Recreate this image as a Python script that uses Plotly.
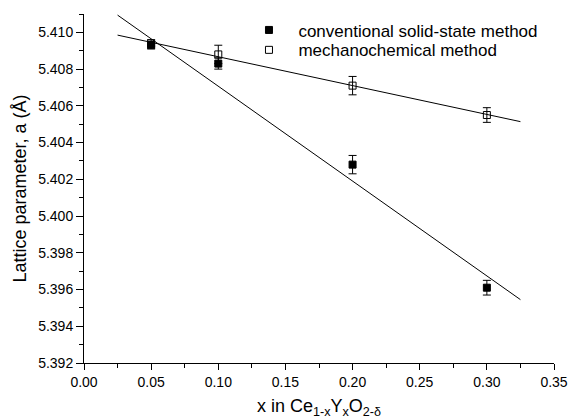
import plotly.graph_objects as go

# Data
x_vals = [0.05, 0.10, 0.20, 0.30]
conv_y = [5.4093, 5.4083, 5.4028, 5.3961]
conv_err = [0.0002, 0.0003, 0.0005, 0.0004]
mech_y = [5.4094, 5.4088, 5.4071, 5.4055]
mech_err = [0.0002, 0.0005, 0.0005, 0.0004]

# Fitted straight lines (end points)
fit_x = [0.025, 0.325]
conv_fit_y = [5.41094, 5.39545]
mech_fit_y = [5.40985, 5.40514]

names = ["conventional solid-state method", "mechanochemical method"]
x_ticks = [0, 0.05, 0.1, 0.15, 0.2, 0.25, 0.3, 0.35]
x_ticktext = ["0.00", "0.05", "0.10", "0.15", "0.20", "0.25", "0.30", "0.35"]

font = "Liberation Sans, Arial, sans-serif"
NB = "\u00a0\u00a0"  # small gap between legend symbol and text

fig = go.Figure()
fig.add_trace(go.Scatter(x=fit_x, y=conv_fit_y, mode="lines",
                         line=dict(color="black", width=1), showlegend=False, hoverinfo="skip"))
fig.add_trace(go.Scatter(x=fit_x, y=mech_fit_y, mode="lines",
                         line=dict(color="black", width=1), showlegend=False, hoverinfo="skip"))
fig.add_trace(go.Scatter(x=x_vals, y=conv_y, mode="markers", name=NB + names[0],
                         legend="legend",
                         marker=dict(symbol="square", size=7, color="black",
                                     line=dict(color="black", width=1)),
                         error_y=dict(type="data", array=conv_err, color="black",
                                      thickness=1, width=4)))
fig.add_trace(go.Scatter(x=x_vals, y=mech_y, mode="markers", name=NB + names[1],
                         legend="legend2",
                         marker=dict(symbol="square-open", size=7, color="black",
                                     line=dict(color="black", width=1)),
                         error_y=dict(type="data", array=mech_err, color="black",
                                      thickness=1, width=4)))

leg_common = dict(xanchor="left", yanchor="middle", bgcolor="rgba(0,0,0,0)",
                  font=dict(size=17), itemwidth=30)

fig.update_layout(
    width=570, height=419,
    margin=dict(l=84, r=16, t=14, b=56),
    paper_bgcolor="white", plot_bgcolor="white",
    font=dict(family=font, size=14, color="black"),
    legend=dict(x=0.351, y=0.953, **leg_common),
    legend2=dict(x=0.351, y=0.896, **leg_common),
    xaxis=dict(range=[0, 0.35], tickvals=x_ticks, ticktext=x_ticktext,
               ticks="outside", ticklen=6, tickwidth=1, tickcolor="black",
               showline=True, linecolor="black", linewidth=1, mirror=False,
               showgrid=False, zeroline=False, automargin=False,
               minor=dict(ticks="outside", ticklen=4, tickwidth=1, tickcolor="black", dtick=0.025, showgrid=False),
               title=dict(text="x in Ce<sub>1-x</sub>Y<sub>x</sub>O<sub>2-δ</sub>", font=dict(size=18), standoff=11)),
    yaxis=dict(range=[5.392, 5.411], tick0=5.392, dtick=0.002, tickformat=".3f",
               ticks="outside", ticklen=7, tickwidth=1, tickcolor="black",
               showline=True, linecolor="black", linewidth=1, mirror=False,
               showgrid=False, zeroline=False, automargin=False,
               minor=dict(ticks="outside", ticklen=4, tickwidth=1, tickcolor="black", dtick=0.001, showgrid=False),
               title=dict(text="Lattice parameter, a (Å)", font=dict(size=18), standoff=6)),
)

fig.write_html("out.html",
               config={"displayModeBar": False},
               post_script="document.body.style.margin='0';document.body.style.overflow='hidden';")
